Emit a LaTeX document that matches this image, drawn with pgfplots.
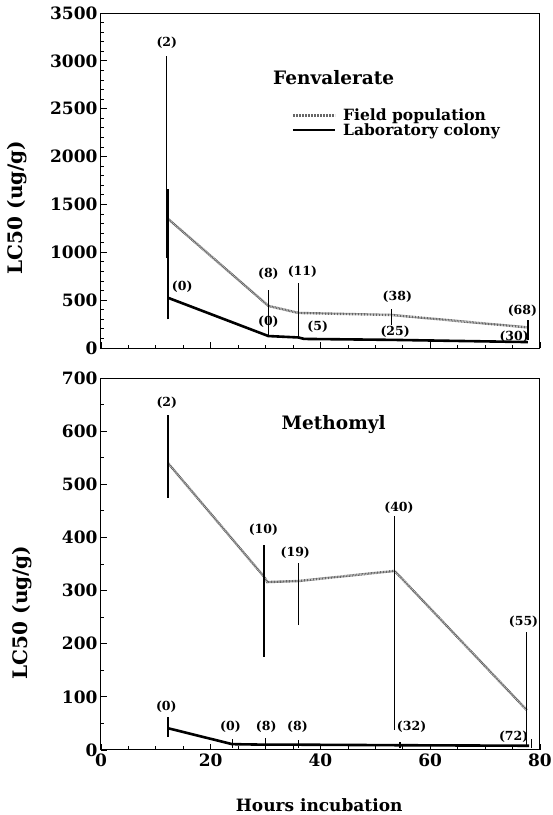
\documentclass[border=0pt]{standalone}
\usepackage{pgfplots}
\pgfplotsset{compat=1.18}
\usepackage{fontspec}
\setmainfont{DejaVu Serif}

% confidence limits, one segment per pair, nan rows break the line
\pgfplotstableread{
x y
11.9 940
11.9 3050
nan nan
12.2 300
12.2 1660
nan nan
30.5 136
30.5 606
nan nan
36.0 115
36.0 680
nan nan
53.0 240
53.0 405
nan nan
77.8 84
77.8 290
}\fenci
\pgfplotstableread{
x y
12.2 475
12.2 630
nan nan
29.7 175
29.7 385
nan nan
36.0 235
36.0 352
nan nan
53.5 38
53.5 440
nan nan
77.6 5
77.6 222
nan nan
12.2 25
12.2 62
nan nan
23.9 4
23.9 20
nan nan
30.0 4
30.0 22
nan nan
36.0 4
36.0 18
nan nan
54.5 3
54.5 15
nan nan
78.4 3
78.4 20
}\metci

\tikzset{
  ann/.style={font=\bfseries\fontsize{12.5}{12.5}\selectfont, inner sep=0pt},
  ttl/.style={font=\bfseries\fontsize{18.5}{18.5}\selectfont}
}

\begin{document}
\begin{tikzpicture}
\path[use as bounding box] (-101pt,-467pt) rectangle (452pt,348pt);
\pgfplotsset{
  panel/.style={scale only axis, width=439pt, xmin=0, xmax=80,
    axis line style={line width=1pt}, tick pos=left,
    xtick={0,20,...,80}, minor x tick num=3,
    tick style={black, line width=0.8pt},
    major tick length=6pt, minor tick length=3.5pt,
    ticklabel style={font=\bfseries\fontsize{17}{17}\selectfont},
    /pgf/number format/assume math mode=true,
    /pgf/number format/1000 sep={},
    xlabel style={font=\bfseries\fontsize{17}{17}\selectfont},
    ylabel style={font=\bfseries\fontsize{20}{20}\selectfont},
    clip=false},
  field/.style={black!60, line width=2.4pt, dash pattern=on 0.9pt off 0.6pt},
  lab/.style={black, line width=2.6pt},
  ci/.style={black, line width=1.2pt, unbounded coords=jump, forget plot}
}
% Fenvalerate
\begin{axis}[panel, height=335pt, ymin=0, ymax=3500,
  ytick={0,500,...,3500}, minor y tick num=4, xticklabels={},
  ylabel={LC50 (ug/g)},
  ylabel style={at={(axis description cs:-0.19,0.42)}, anchor=center},
  legend style={draw=none, fill=none, at={(axis cs:34.7,2520)},
    anchor=north west, inner sep=0pt, row sep=-3pt,
    font=\bfseries\fontsize{15.5}{15.5}\selectfont,
    nodes={inner xsep=7pt}},
  legend cell align=left,
  legend image code/.code={\draw[#1] (0pt,0pt) -- (42pt,0pt);}]
\addplot[field] coordinates {(12.2,1350) (30.5,440) (36,366) (53,345) (77.8,215)};
\addplot[lab] coordinates {(12.2,525) (30.5,125) (36,110) (37,95) (53,85) (77.8,62)};
\addplot[ci] table {\fenci};
\legend{Field population, Laboratory colony}
\node[ttl] at (axis cs:42.4,2820) {Fenvalerate};
\node[ann] at (axis cs:12,3190) {(2)};
\node[ann] at (axis cs:14.8,640) {(0)};
\node[ann] at (axis cs:30.5,780) {(8)};
\node[ann] at (axis cs:30.5,270) {(0)};
\node[ann] at (axis cs:36.7,800) {(11)};
\node[ann] at (axis cs:39.5,225) {(5)};
\node[ann] at (axis cs:54,535) {(38)};
\node[ann] at (axis cs:53.6,175) {(25)};
\node[ann] at (axis cs:76.8,390) {(68)};
\node[ann] at (axis cs:75.3,115) {(30)};
\end{axis}
% Methomyl
\begin{axis}[panel, at={(0pt,-30pt)}, anchor=north west, height=372pt,
  ymin=0, ymax=700, ytick={0,100,...,700}, minor y tick num=1,
  xlabel={Hours incubation},
  xlabel style={at={(axis description cs:0.497,0)}, yshift=-55pt, anchor=center},
  ylabel={LC50 (ug/g)},
  ylabel style={at={(axis description cs:-0.18,0.37)}, anchor=center}]
\addplot[field] coordinates {(12.2,540) (29.8,325) (30.3,316) (36,318) (53.5,337) (77.6,75)};
\addplot[lab] coordinates {(12.2,41) (23.9,11) (30,10) (36,10) (54,9) (78,8)};
\addplot[ci] table {\metci};
\node[ttl] at (axis cs:42.4,612) {Methomyl};
\node[ann] at (axis cs:12,653) {(2)};
\node[ann] at (axis cs:29.6,414) {(10)};
\node[ann] at (axis cs:35.4,371) {(19)};
\node[ann] at (axis cs:54.3,455) {(40)};
\node[ann] at (axis cs:77,241) {(55)};
\node[ann] at (axis cs:11.9,81) {(0)};
\node[ann] at (axis cs:23.6,43) {(0)};
\node[ann] at (axis cs:30.1,43) {(8)};
\node[ann] at (axis cs:35.8,43) {(8)};
\node[ann] at (axis cs:56.6,43) {(32)};
\node[ann] at (axis cs:75.2,25) {(72)};
\end{axis}
\end{tikzpicture}
\end{document}
